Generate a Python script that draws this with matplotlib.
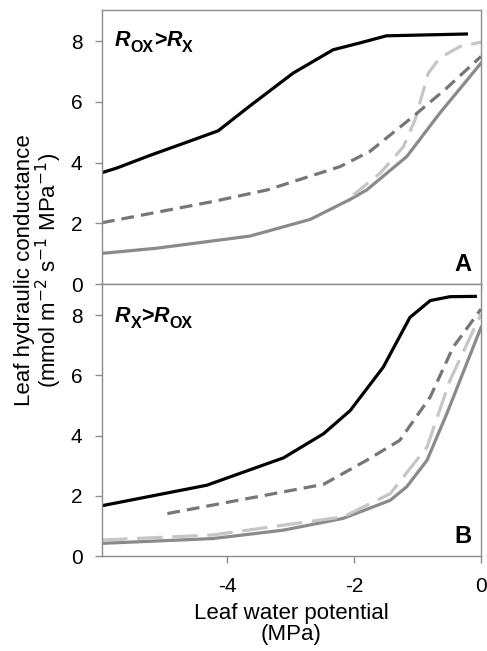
import matplotlib
matplotlib.use("Agg")
import matplotlib.pyplot as plt

plt.rcParams['font.family'] = ['Liberation Sans', 'DejaVu Sans']

# Panel A (R_OX > R_X)
a_black_x = [-5.97, -5.74, -5.2, -4.6, -4.14, -3.64, -2.96, -2.33, -1.9, -1.49, -0.23]
a_black_y = [3.67, 3.82, 4.25, 4.7, 5.05, 5.87, 6.95, 7.72, 7.95, 8.18, 8.24]
a_dkdash_x = [-5.97, -4.22, -3.37, -2.22, -1.75, -1.07, -0.54, 0.0]
a_dkdash_y = [2.02, 2.72, 3.10, 3.87, 4.37, 5.52, 6.46, 7.50]
a_grey_x = [-5.97, -5.11, -3.64, -2.69, -2.06, -1.80, -1.17, -0.65, 0.0]
a_grey_y = [1.01, 1.18, 1.58, 2.13, 2.79, 3.10, 4.20, 5.63, 7.28]
a_ltdash_x = [-2.01, -1.59, -1.22, -1.04, -0.83, -0.65, -0.33, 0.0]
a_ltdash_y = [2.94, 3.65, 4.53, 5.41, 6.95, 7.45, 7.83, 7.97]

# Panel B (R_X > R_OX)
b_black_x = [-5.97, -5.0, -4.32, -3.11, -2.48, -2.06, -1.54, -1.12, -0.80, -0.49, -0.09]
b_black_y = [1.67, 2.07, 2.35, 3.26, 4.06, 4.83, 6.27, 7.92, 8.48, 8.61, 8.62]
b_dkdash_x = [-4.94, -2.48, -1.80, -1.28, -0.80, -0.44, 0.0]
b_dkdash_y = [1.41, 2.38, 3.18, 3.84, 5.28, 6.93, 8.2]
b_ltdash_x = [-5.97, -4.22, -2.17, -1.43, -0.85, -0.49, 0.0]
b_ltdash_y = [0.53, 0.70, 1.30, 2.07, 3.62, 5.83, 8.03]
b_grey_x = [-5.97, -4.22, -3.11, -2.17, -1.43, -1.17, -0.85, -0.54, 0.0]
b_grey_y = [0.42, 0.58, 0.86, 1.25, 1.85, 2.30, 3.18, 4.72, 7.59]

xticks = [-4, -2, 0]
xticklabels = ['-4', '-2', '0']
yticks = [0, 2, 4, 6, 8]

fig = plt.figure(figsize=(4.87, 6.51), dpi=100)
left, width = 0.2094, 0.9877 - 0.2094
axA = fig.add_axes([left, 0.5637, width, 0.9846 - 0.5637])
axB = fig.add_axes([left, 0.1459, width, 0.5637 - 0.1459])

lw = 2.3
c_black = '#000000'
c_dk = '#767676'
c_grey = '#8a8a8a'
c_lt = '#c6c6c6'

axA.plot(a_grey_x, a_grey_y, color=c_grey, lw=lw)
axA.plot(a_ltdash_x, a_ltdash_y, color=c_lt, lw=lw, dashes=(6, 3))
axA.plot(a_dkdash_x, a_dkdash_y, color=c_dk, lw=lw, dashes=(4, 2.2))
axA.plot(a_black_x, a_black_y, color=c_black, lw=lw)

axB.plot(b_grey_x, b_grey_y, color=c_grey, lw=lw)
axB.plot(b_ltdash_x, b_ltdash_y, color=c_lt, lw=lw, dashes=(8, 3))
axB.plot(b_dkdash_x, b_dkdash_y, color=c_dk, lw=lw, dashes=(4, 2.2))
axB.plot(b_black_x, b_black_y, color=c_black, lw=lw)

for ax in (axA, axB):
    ax.set_xlim(-5.97, 0)
    ax.set_ylim(0, 9.03)
    ax.set_xticks(xticks)
    ax.set_yticks(yticks)
    for s in ax.spines.values():
        s.set_color('#8c8c8c')
        s.set_linewidth(1.0)
    ax.tick_params(direction='out', length=5, width=1, color='#8c8c8c',
                   labelsize=15)
    ax.tick_params(axis='y', pad=9)
    ax.tick_params(axis='x', pad=10)

axA.tick_params(labelbottom=False)
axB.set_xticklabels(xticklabels)


def ratio_label(ax, y, sub1, sub2, big=15.5, small=11.5, drop=2.8):
    t = ax.text(0.034, y, 'R', transform=ax.transAxes, fontsize=big,
                fontweight='bold', style='italic', va='baseline', ha='left')
    s1 = ax.annotate(sub1, xy=(1, 0), xycoords=t, xytext=(0, -drop),
                     textcoords='offset points', fontsize=small, fontweight='bold',
                     va='bottom', ha='left')
    g = ax.annotate('>', xy=(1, 0), xycoords=s1, xytext=(0.3, drop),
                    textcoords='offset points', fontsize=big, fontweight='bold',
                    va='bottom', ha='left')
    r2 = ax.annotate('R', xy=(1, 0), xycoords=g, fontsize=big, fontweight='bold',
                     style='italic', va='bottom', ha='left')
    ax.annotate(sub2, xy=(1, 0), xycoords=r2, xytext=(0, -drop),
                textcoords='offset points', fontsize=small, fontweight='bold',
                va='bottom', ha='left')


ratio_label(axA, 0.869, 'OX', 'X')
ratio_label(axB, 0.860, 'X', 'OX')

axA.text(0.975, 0.03, 'A', transform=axA.transAxes, fontsize=17, fontweight='bold',
         ha='right', va='bottom')
axB.text(0.975, 0.03, 'B', transform=axB.transAxes, fontsize=17, fontweight='bold',
         ha='right', va='bottom')

axB.set_xlabel('Leaf water potential\n(MPa)', fontsize=16, labelpad=5, linespacing=1.0)
fig.text(0.081, 0.585, 'Leaf hydraulic conductance\n(mmol m$^{-2}$ s$^{-1}$ MPa$^{-1}$)',
         rotation=90, ha='center', va='center', fontsize=16, linespacing=0.95,
         multialignment='center')

fig.savefig('out.png', dpi=100)
